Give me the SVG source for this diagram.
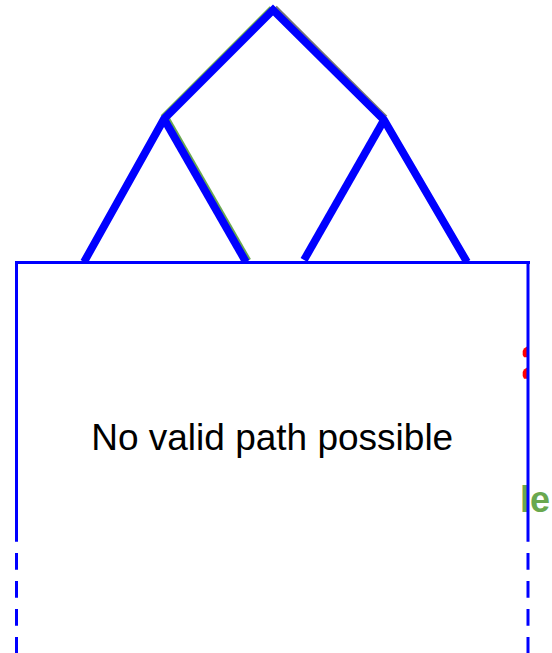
<svg xmlns="http://www.w3.org/2000/svg" width="552" height="653" viewBox="0 0 552 653">
<style>
.thick{fill:none;stroke:#0000ff;stroke-width:7.8;stroke-linejoin:miter;stroke-linecap:butt}
.under{fill:none;stroke-width:7.8;stroke-linecap:butt}
.frame{fill:none;stroke:#0000ff;stroke-width:3}
.dash{fill:none;stroke:#0000ff;stroke-width:3;stroke-dasharray:16.7 11.3}
.label{font-family:"Liberation Sans",Arial,sans-serif;font-size:37px;fill:#000}
.green{font-family:"Liberation Sans",Arial,sans-serif;font-size:36px;font-weight:bold;fill:#6aa84f}
</style>
<rect width="552" height="653" fill="#fff"/>
<g id="edge-label">
<text class="green" x="520" y="512">le</text>
</g>
<g id="markers">
<path d="M527,346.5 L524,348.5 L522.7,351 L522.7,355 L524,357.3 L527,357.3 Z" fill="#ff0000"/>
<path d="M527,367.5 L524,369.5 L522.7,372 L522.7,376 L524,378.7 L527,378.7 Z" fill="#ff0000"/>
</g>
<g id="connectors">
<line class="under" x1="165.5" y1="118" x2="247.5" y2="261" stroke="#6aa84f"/>
<line class="under" x1="163.5" y1="118" x2="272.5" y2="9" stroke="#6aa84f"/>
<line class="under" x1="274" y1="8.5" x2="384.5" y2="118.5" stroke="#777"/>
<polyline class="thick" points="84,262 164,119 273,10 384,120 467,262"/>
<line class="thick" x1="164" y1="119" x2="246" y2="262"/>
<line class="thick" x1="384" y1="120" x2="304" y2="260"/>
</g>
<g id="node-frame">
<polyline class="frame" points="16.5,525 16.5,262.5 528,262.5 528,525"/>
<line class="frame" x1="528" y1="262.5" x2="530" y2="262.5"/>
<line class="dash" x1="16.5" y1="525" x2="16.5" y2="653"/>
<line class="dash" x1="528" y1="525" x2="528" y2="653"/>
<text class="label" x="272.2" y="449.5" text-anchor="middle">No valid path possible</text>
</g>
</svg>
